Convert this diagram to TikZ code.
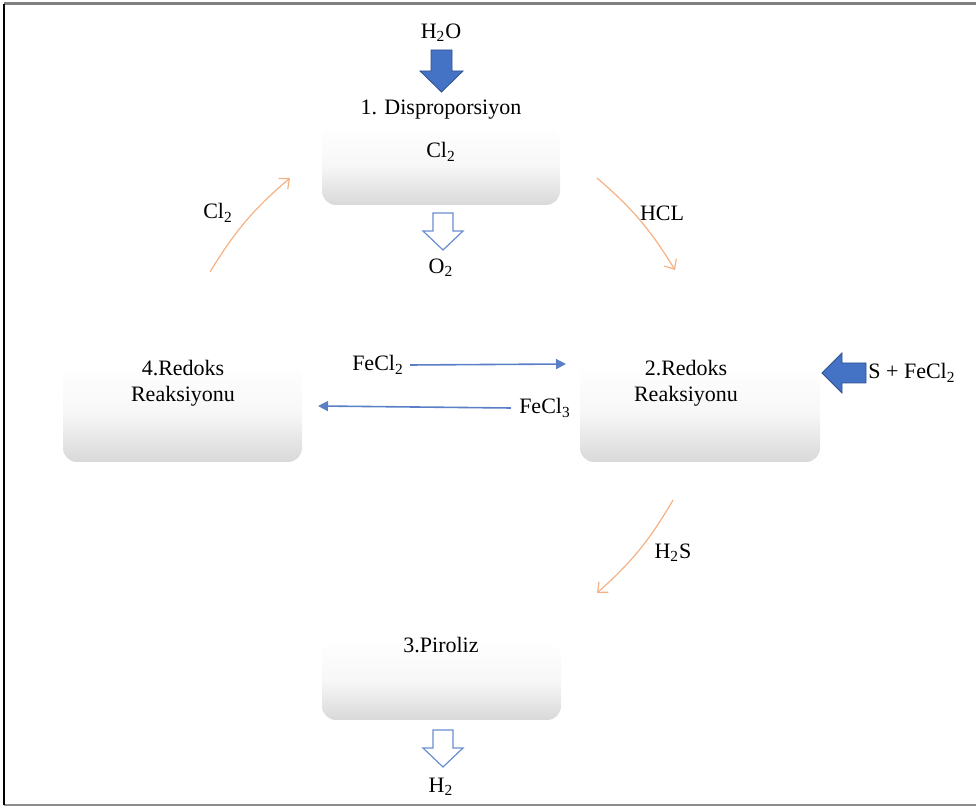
\documentclass[tikz,border=0pt]{standalone}
\usepackage{fontspec}
\setmainfont{Liberation Serif}
\usetikzlibrary{arrows.meta}
\definecolor{arrowblue}{HTML}{4472C4}
\definecolor{darkblue}{HTML}{2F528F}
\definecolor{lineblue}{HTML}{5B7FC7}
\definecolor{peach}{HTML}{F4B183}
\tikzset{
  stagebox/.style={rectangle, rounded corners=7pt, draw=none,
    top color=white, bottom color=black!15, middle color=black!3},
  lbl/.style={inner sep=1pt, font=\fontsize{11}{13}\selectfont},
  feed/.style={fill=arrowblue, draw=darkblue, line width=0.4pt},
  product/.style={fill=white, draw=arrowblue!80, line width=0.6pt},
  flow/.style={draw=lineblue, line width=0.8pt, -{Triangle[length=5pt,width=5pt]}},
  cycle/.style={draw=peach, line width=0.6pt, -{Straight Barb[length=4pt,width=7pt]}},
}
\newcommand{\sub}[1]{\textsubscript{#1}}
\begin{document}
\begin{tikzpicture}[x=0.5pt,y=-0.5pt]
  \useasboundingbox (0,0) rectangle (976,807);
  % frame
  \draw[black!50, line width=1.5pt] (4,4) -- (976,4);
  \draw[black!45, line width=1pt] (4,805) -- (976,805);
  \draw[black, line width=1pt] (4,4) -- (4,805);

  % stage boxes
  \node[stagebox, minimum width=119pt, minimum height=40pt] (disp) at (441,165) {};
  \node[stagebox, minimum width=119.5pt, minimum height=50pt] (redox4) at (182.5,412) {};
  \node[stagebox, minimum width=120pt, minimum height=50pt] (redox2) at (700,412) {};
  \node[stagebox, minimum width=119.5pt, minimum height=40pt] (pyro) at (441.5,680) {};

  % stage texts
  \node[lbl] (tdisp) at (441,110) {1. Disproporsiyon};
  \node[lbl] (tcl) at (441,152) {Cl\sub{2}};
  \node[lbl, align=center] (t4) at (183,383) {4.Redoks\\Reaksiyonu};
  \node[lbl, align=center] (t2) at (686,383) {2.Redoks\\Reaksiyonu};
  \node[lbl] (t3) at (441,645) {3.Piroliz};

  % water feed
  \node[lbl] (h2o) at (441,33) {H\sub{2}O};
  \draw[feed] (431,50) -- (452,50) -- (452,71) -- (463,71) -- (441.5,92)
    -- (420,71) -- (431,71) -- cycle;

  % oxygen product
  \draw[product] (433,213) -- (453,213) -- (453,231) -- (463,231) -- (443,250)
    -- (423,231) -- (433,231) -- cycle;
  \node[lbl] (o2) at (441,268) {O\sub{2}};

  % hydrogen product
  \draw[product] (433,730) -- (453,730) -- (453,748) -- (463,748) -- (443,767)
    -- (423,748) -- (433,748) -- cycle;
  \node[lbl] (h2) at (441,787) {H\sub{2}};

  % sulfur feed
  \node[lbl, anchor=west] (sfe) at (866,373) {S + FeCl\sub{2}};
  \draw[feed] (866,363) -- (842,363) -- (842,353) -- (822,373) -- (842,393)
    -- (842,383) -- (866,383) -- cycle;

  % iron chloride exchange
  \node[lbl] (fecl2) at (378,365) {FeCl\sub{2}};
  \node[lbl] (fecl3) at (545,408) {FeCl\sub{3}};
  \coordinate (f2end) at (566,364);
  \coordinate (f3end) at (318,406);
  \draw[flow] (fecl2.east) ++(2pt,0) -- (f2end);
  \draw[flow] (fecl3.west) ++(-3pt,0) -- (f3end);

  % cycle arrows
  \coordinate (c1s) at (210,272);
  \coordinate (c1e) at (290,178);
  \coordinate (c2s) at (597,178);
  \coordinate (c2e) at (675,270);
  \coordinate (c3s) at (673,500);
  \coordinate (c3e) at (597,593);
  \draw[cycle] (c1s) to[bend left=9] (c1e);
  \draw[cycle] (c2s) to[bend left=9] (c2e);
  \draw[cycle] (c3s) to[bend left=9] (c3e);
  \node[lbl] (lcl) at (218,213) {Cl\sub{2}};
  \node[lbl] (lhcl) at (662,213) {HCL};
  \node[lbl] (lh2s) at (673,553) {H\sub{2}S};
\end{tikzpicture}
\end{document}
